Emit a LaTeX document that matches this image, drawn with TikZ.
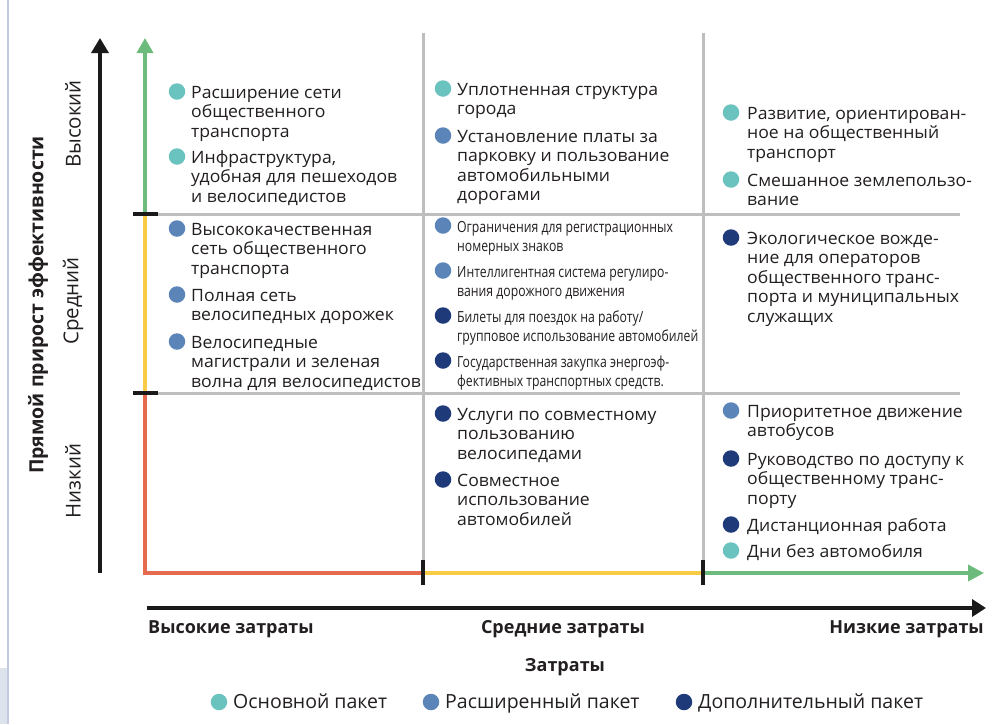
\documentclass[tikz,border=0pt]{standalone}
\usepackage{fontspec}
\setmainfont{Open Sans}
\newfontfamily\condf[FakeStretch=0.8]{Open Sans}
\newfontfamily\bodyf[FakeStretch=1.035]{Open Sans}
\usetikzlibrary{arrows.meta}
\definecolor{cBase}{HTML}{6BC3C0}
\definecolor{cExt}{HTML}{5B85B8}
\definecolor{cAdd}{HTML}{1E3A78}
\definecolor{cGreen}{HTML}{6CBB7C}
\definecolor{cYellow}{HTML}{F8CC47}
\definecolor{cRed}{HTML}{E66A4E}
\definecolor{cGrid}{HTML}{BEBEBE}
\definecolor{cBlack}{HTML}{1A1A1A}
\definecolor{cText}{HTML}{231F20}
\definecolor{cLav}{HTML}{C3CADF}
\definecolor{cEdge}{HTML}{DDE3EC}
\tikzset{
  dotn/.style={circle, inner sep=0pt, minimum size=16.5pt, draw=none},
  txtn/.style={inner sep=0pt, align=left, text=cText, font=\bodyf\fontsize{17}{19.5}\selectfont},
  ctxtn/.style={inner sep=0pt, align=left, text=cText, font=\condf\fontsize{15.3}{18.8}\selectfont},
  gridl/.style={draw=cGrid, line width=3pt},
  tickl/.style={draw=cBlack, line width=3.5pt},
  axl/.style={line width=3.5pt},
  axlab/.style={inner sep=0pt, text=cText, font=\fontsize{20.5}{22}\selectfont},
  botlab/.style={inner sep=0pt, text=cText, font=\bfseries\fontsize{18}{20}\selectfont},
  leglab/.style={inner sep=0pt, text=cText, font=\fontsize{19.5}{22}\selectfont},
}
\newcommand\entry[6]{%
  \node[dotn, fill=#5] (#1d) at (#2,#4-6.5) {};
  \node[txtn, anchor=north west] (#1) at (#3,#4-14) {\rule{0pt}{14pt}#6};
}
\newcommand\centry[6]{%
  \node[dotn, fill=#5] (#1d) at (#2,#4-6.5) {};
  \node[ctxtn, anchor=north west] (#1) at (#3,#4-14) {\rule{0pt}{14pt}#6};
}
\begin{document}
\begin{tikzpicture}[x=1pt,y=-1pt]
\useasboundingbox (0,0) rectangle (997,724);
\fill[white] (0,0) rectangle (997,724);
\fill[cEdge] (0,668) rectangle (7,724);
\draw[cLav, line width=2pt] (8,0) -- (8,724);
% grid
\draw[gridl] (423,33) -- (423,560);
\draw[gridl] (703,33) -- (703,560);
\draw[gridl] (158,214) -- (960,214);
\draw[gridl] (158,393) -- (960,393);
% y axis
\coordinate (yb) at (100,573);
\coordinate (yt) at (100,38);
\draw[axl, cBlack, -{Triangle[length=15pt,width=17pt]}] (yb) -- (yt);
% coloured axes
\coordinate (c0) at (145,573);
\coordinate (c1) at (145,393);
\coordinate (c2) at (145,214);
\coordinate (c3) at (145,38);
\coordinate (c4) at (423,573);
\coordinate (c5) at (703,573);
\coordinate (c6) at (984,573);
\draw[axl, cGreen, -{Triangle[length=15pt,width=16pt]}] (c2) -- (c3);
\draw[axl, cYellow] (c1) -- (c2);
\draw[axl, cRed] (c1) -- (c0) -- (c4);
\draw[axl, cYellow] (c4) -- (c5);
\draw[axl, cGreen, -{Triangle[length=16pt,width=16pt]}] (c5) -- (c6);
% ticks
\draw[tickl] (133,214) -- (158,214);
\draw[tickl] (133,393) -- (158,393);
\draw[tickl] (423,560) -- (423,585);
\draw[tickl] (703,560) -- (703,585);
% x axis
\coordinate (xa) at (147,608);
\coordinate (xb) at (986,608);
\draw[line width=4.5pt, cBlack, -{Triangle[length=14pt,width=17pt]}] (xa) -- (xb);
% axis labels
\node[axlab, font=\bfseries\fontsize{19.5}{22}\selectfont, rotate=90] (ytitle) at (38,305) {Прямой прирост эффективности};
\node[axlab, rotate=90] (yhi) at (73,124) {Высокий};
\node[axlab, rotate=90] (ymid) at (73,301) {Средний};
\node[axlab, rotate=90] (ylo) at (73,481) {Низкий};
\node[botlab, anchor=base west] (xhi) at (148,633) {Высокие затраты};
\node[botlab, anchor=base] (xmid) at (563,633) {Средние затраты};
\node[botlab, anchor=base east] (xlo) at (984,633) {Низкие затраты};
\node[botlab, anchor=base] (xtitle) at (565,671) {Затраты};
% legend
\node[dotn, fill=cBase] (l1d) at (219,702) {};
\node[leglab, anchor=base west] (l1) at (233,708) {Основной пакет};
\node[dotn, fill=cExt] (l2d) at (431,702) {};
\node[leglab, anchor=base west] (l2) at (445,708) {Расширенный пакет};
\node[dotn, fill=cAdd] (l3d) at (684,702) {};
\node[leglab, anchor=base west] (l3) at (698,708) {Дополнительный пакет};
% entries
\entry{a1}{177}{191}{98}{cBase}{Расширение сети\\общественного\\транспорта}
\entry{a2}{177}{191}{163}{cBase}{Инфраструктура,\\удобная для пешеходов\\и велосипедистов}
\entry{b1}{177}{191}{235}{cExt}{Высококачественная\\сеть общественного\\транспорта}
\entry{b2}{177}{191}{301}{cExt}{Полная сеть\\велосипедных дорожек}
\entry{b3}{177}{191}{348}{cExt}{Велосипедные\\магистрали и зеленая\\волна для велосипедистов}
\entry{c1}{443}{457}{95}{cBase}{Уплотненная структура\\города}
\entry{c2}{443}{457}{142}{cExt}{Установление платы за\\парковку и пользование\\автомобильными\\дорогами}
\centry{d1}{443}{457}{232}{cExt}{Ограничения для регистрационных\\номерных знаков}
\centry{d2}{443}{457}{277}{cExt}{Интеллигентная система регулиро-\\вания дорожного движения}
\centry{d3}{443}{457}{322}{cAdd}{Билеты для поездок на работу/\\групповое использование автомобилей}
\centry{d4}{443}{457}{367}{cAdd}{Государственная закупка энергоэф-\\фективных транспортных средств.}
\entry{e1}{443}{457}{420}{cAdd}{Услуги по совместному\\пользованию\\велосипедами}
\entry{e2}{443}{457}{486}{cAdd}{Совместное\\использование\\автомобилей}
\entry{f1}{731}{747}{119}{cBase}{Развитие, ориентирован-\\ное на общественный\\транспорт}
\entry{f2}{731}{747}{186}{cBase}{Смешанное землепользо-\\вание}
\entry{g1}{731}{747}{244}{cAdd}{Экологическое вожде-\\ние для операторов\\общественного транс-\\порта и муниципальных\\служащих}
\entry{h1}{731}{747}{417}{cExt}{Приоритетное движение\\автобусов}
\entry{h2}{731}{747}{465}{cAdd}{Руководство по доступу к\\общественному транс-\\порту}
\entry{h3}{731}{747}{531}{cAdd}{Дистанционная работа}
\entry{h4}{731}{747}{557}{cBase}{Дни без автомобиля}
\end{tikzpicture}
\end{document}
